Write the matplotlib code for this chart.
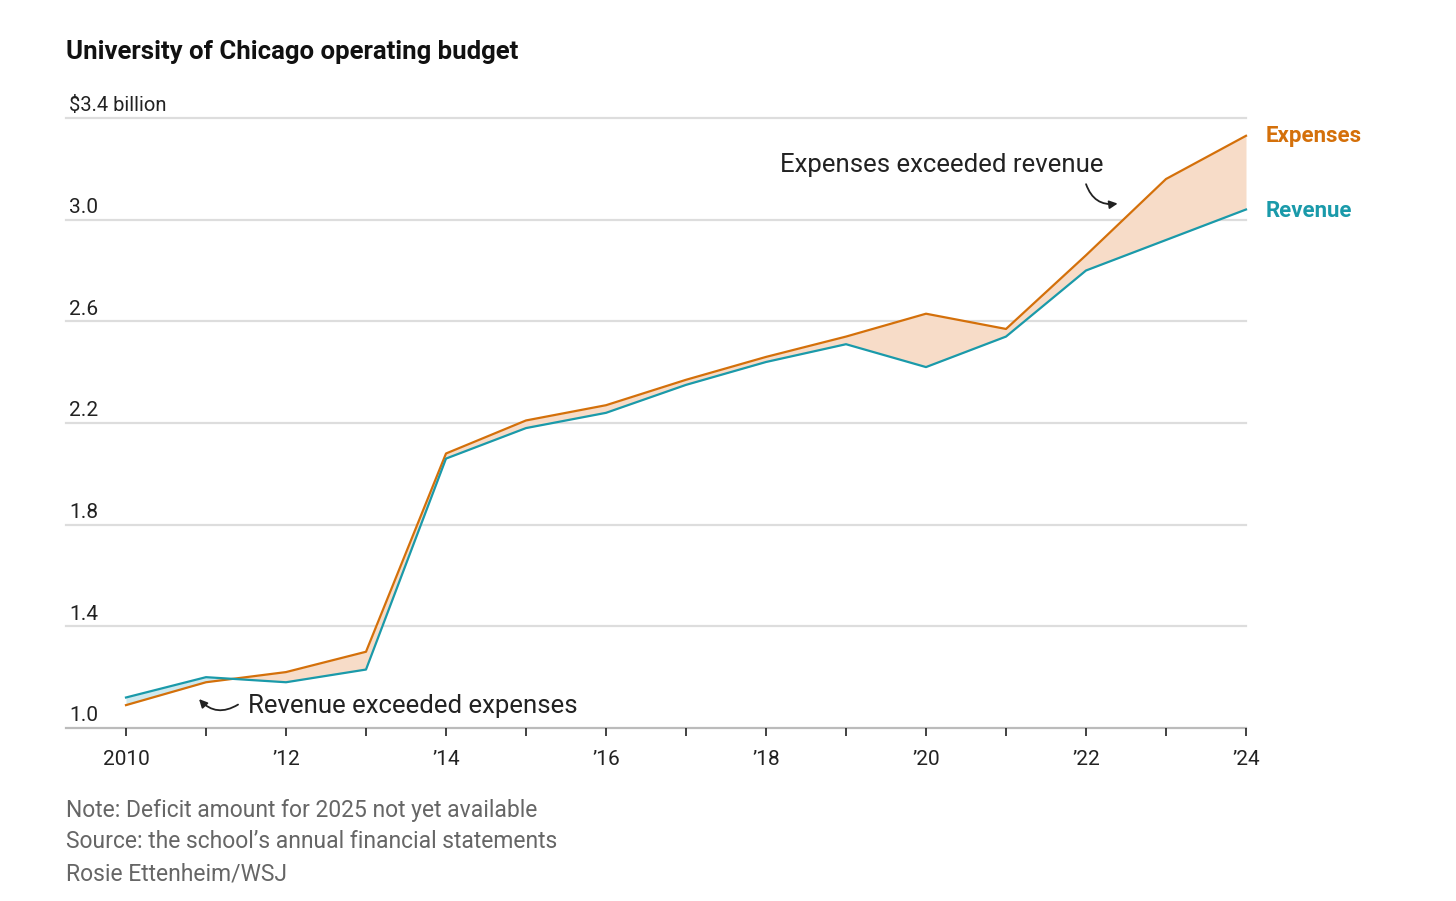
import matplotlib.pyplot as plt
import numpy as np

plt.rcParams['font.family'] = ['Roboto', 'DejaVu Sans']

years = np.arange(2010, 2025)
expenses = [1.09, 1.18, 1.22, 1.30, 2.08, 2.21, 2.27, 2.37, 2.46, 2.54, 2.63, 2.57, 2.86, 3.16, 3.33]
revenue = [1.12, 1.20, 1.18, 1.23, 2.06, 2.18, 2.24, 2.35, 2.44, 2.51, 2.42, 2.54, 2.80, 2.92, 3.04]
yticks = [1.0, 1.4, 1.8, 2.2, 2.6, 3.0, 3.4]
ytick_labels = ['1.0', '1.4', '1.8', '2.2', '2.6', '3.0', '$3.4 billion']
xtick_years = [2010, 2012, 2014, 2016, 2018, 2020, 2022, 2024]
xtick_labels = ['2010', '’12', '’14', '’16', '’18', '’20', '’22', '’24']

exp_c = '#d4700a'
rev_c = '#1a9aaa'

fig = plt.figure(figsize=(14.56, 9.01), dpi=100)
ax = fig.add_axes([66/1456, 1-728/901, (1246-66)/1456, (728-118)/901])
ax.set_xlim(2009.25, 2024)
ax.set_ylim(1.0, 3.4)

e = np.array(expenses); r = np.array(revenue)
ax.fill_between(years, r, e, where=e >= r, interpolate=True, color='#f7dcc8', lw=0)
ax.fill_between(years, r, e, where=e < r, interpolate=True, color='#cfe9ee', lw=0)
ax.plot(years, e, color=exp_c, lw=1.6, clip_on=False, zorder=3)
ax.plot(years, r, color=rev_c, lw=1.6, clip_on=False, zorder=3)

for v, lab in zip(yticks, ytick_labels):
    ax.axhline(v, color='#dddddd' if v > 1.0 else '#bbbbbb', lw=1.6, zorder=0, clip_on=False)
    ax.text(2009.29, v + 0.01, lab, fontsize=15 if v < 3.4 else 14.5, va='bottom', ha='left', color='#222222')

for s in ax.spines.values():
    s.set_visible(False)
ax.set_yticks([])
ax.set_xticks(years, minor=False)
ax.set_xticklabels([xtick_labels[xtick_years.index(y)] if y in xtick_years else '' for y in years],
                   fontsize=15, color='#222222')
ax.tick_params(axis='x', direction='out', length=6, width=1.2, color='#222222', pad=10)

ax.text(2024.25, 3.33, 'Expenses', color=exp_c, fontsize=16, fontweight='bold', va='center')
ax.text(2024.25, 3.035, 'Revenue', color=rev_c, fontsize=16, fontweight='bold', va='center')

ax.text(2020.2, 3.217, 'Expenses exceeded revenue', fontsize=18.5, ha='center', va='center', color='#222222')
ax.annotate('', xy=(2022.43, 3.065), xytext=(2021.99, 3.15),
            arrowprops=dict(arrowstyle='-|>', color='#222222', lw=1.3,
                            connectionstyle='arc3,rad=0.45', mutation_scale=12))
ax.text(2011.53, 1.087, 'Revenue exceeded expenses', fontsize=18.5, ha='left', va='center', color='#222222')
ax.annotate('', xy=(2010.89, 1.122), xytext=(2011.43, 1.098),
            arrowprops=dict(arrowstyle='-|>', color='#222222', lw=1.3,
                            connectionstyle='arc3,rad=-0.45', mutation_scale=12))

fig.text(66/1456, 1-52/901, 'University of Chicago operating budget', fontsize=18.5,
         fontweight='bold', va='center', color='#111111')
notes = ['Note: Deficit amount for 2025 not yet available',
         'Source: the school’s annual financial statements',
         'Rosie Ettenheim/WSJ']
for i, n in enumerate(notes):
    fig.text(66/1456, 1-(810+32*i)/901, n, fontsize=16.5, va='center', color='#666666')

fig.savefig('out.png', dpi=100)
